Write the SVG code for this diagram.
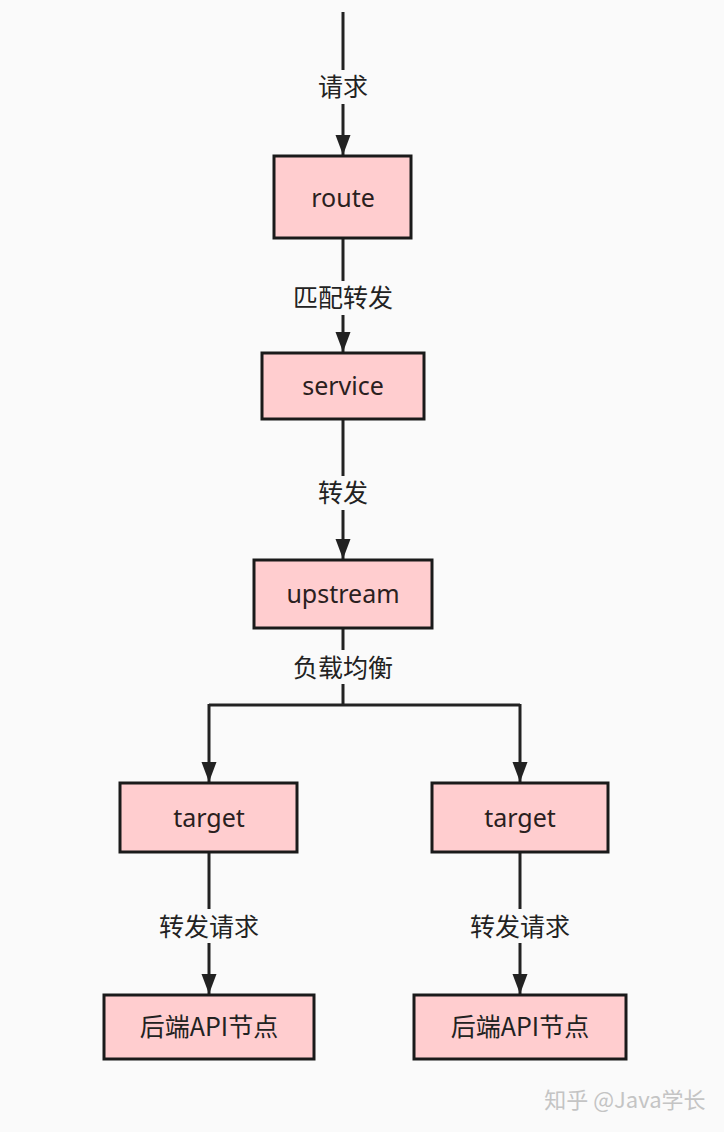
<svg xmlns="http://www.w3.org/2000/svg" width="724" height="1132" viewBox="0 0 724 1132">
<style>
.box{fill:#ffcdcf;stroke:#1a1a1a;stroke-width:3}
.nt{font-family:"Noto Sans","Noto Sans CJK SC",sans-serif;font-size:25px;fill:#2a2020;text-anchor:middle}
.lb{font-family:"Noto Sans CJK SC",sans-serif;font-size:25px;fill:#222;text-anchor:middle}
.ln{stroke:#222;stroke-width:3;fill:none}
.bg{fill:#fafafa}
</style>
<defs>
<marker id="ah" markerUnits="userSpaceOnUse" markerWidth="20" markerHeight="26" refX="24" refY="9" orient="auto" viewBox="0 0 24 18">
<path d="M0,0 L24,9 L0,18 Z" fill="#222"/>
</marker>
</defs>
<rect width="724" height="1132" fill="#fafafa"/>
<g id="connectors">
<line class="ln" x1="343" y1="12" x2="343" y2="155" marker-end="url(#ah)"/>
<line class="ln" x1="343" y1="238" x2="343" y2="352" marker-end="url(#ah)"/>
<line class="ln" x1="343" y1="419" x2="343" y2="559" marker-end="url(#ah)"/>
<polyline class="ln" points="343,628 343,705"/>
<polyline class="ln" points="209,705 520,705"/>
<line class="ln" x1="209" y1="704" x2="209" y2="782" marker-end="url(#ah)"/>
<line class="ln" x1="520" y1="704" x2="520" y2="782" marker-end="url(#ah)"/>
<line class="ln" x1="209" y1="852" x2="209" y2="994" marker-end="url(#ah)"/>
<line class="ln" x1="520" y1="852" x2="520" y2="994" marker-end="url(#ah)"/>
<rect class="bg" x="310" y="70" width="66" height="34"/>
<text class="lb" x="343" y="96">请求</text>
<rect class="bg" x="290" y="281" width="106" height="34"/>
<text class="lb" x="343" y="307">匹配转发</text>
<rect class="bg" x="310" y="476" width="66" height="34"/>
<text class="lb" x="343" y="502">转发</text>
<rect class="bg" x="290" y="650" width="106" height="34"/>
<text class="lb" x="343" y="677">负载均衡</text>
<rect class="bg" x="156" y="909" width="106" height="34"/>
<text class="lb" x="209" y="936">转发请求</text>
<rect class="bg" x="467" y="909" width="106" height="34"/>
<text class="lb" x="520" y="936">转发请求</text>
</g>
<g id="route"><rect class="box" x="274" y="156" width="137" height="82"/><text class="nt" x="343" y="207">route</text></g>
<g id="service"><rect class="box" x="262" y="353" width="162" height="66"/><text class="nt" x="343" y="395">service</text></g>
<g id="upstream"><rect class="box" x="254" y="560" width="178" height="68"/><text class="nt" x="343" y="603">upstream</text></g>
<g id="target1"><rect class="box" x="120" y="783" width="177" height="69"/><text class="nt" x="209" y="827">target</text></g>
<g id="target2"><rect class="box" x="432" y="783" width="176" height="69"/><text class="nt" x="520" y="827">target</text></g>
<g id="backend1"><rect class="box" x="104" y="995" width="210" height="64"/><text class="lb" x="209" y="1036">后端API节点</text></g>
<g id="backend2"><rect class="box" x="414" y="995" width="212" height="64"/><text class="lb" x="520" y="1036">后端API节点</text></g>
<text x="625" y="1108" font-family="Noto Sans CJK SC,sans-serif" font-size="22" fill="#c4c4c4" text-anchor="middle">知乎 @Java学长</text>
</svg>
